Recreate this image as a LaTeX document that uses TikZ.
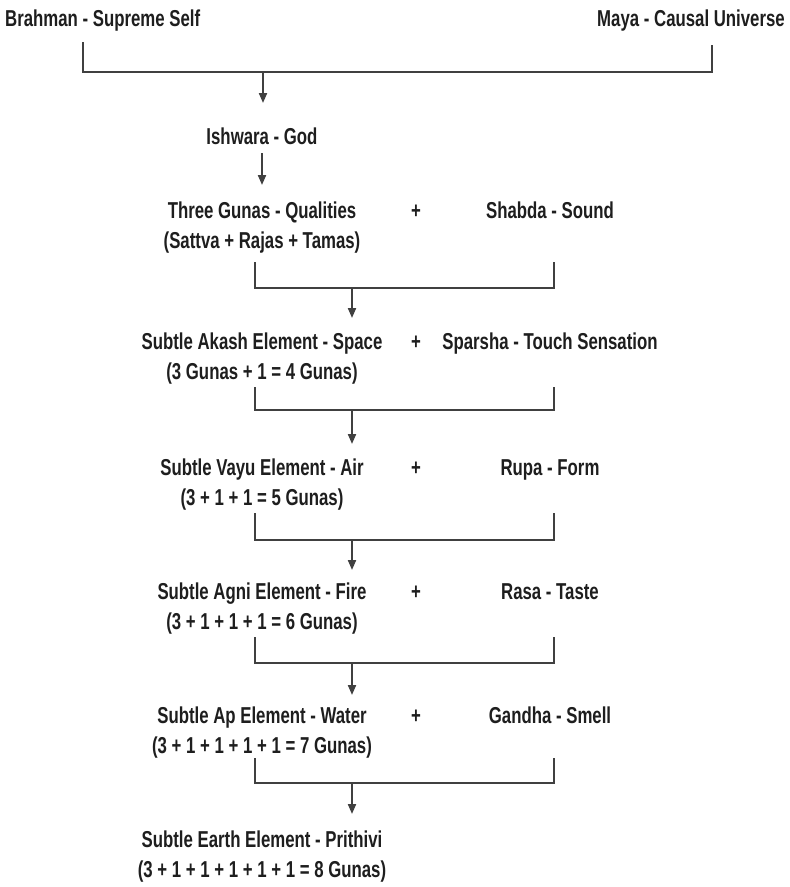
\documentclass[tikz,border=0pt]{standalone}
\usepackage{fontspec}
\newfontfamily\lblfont[FakeStretch=0.73]{Liberation Sans}
\usetikzlibrary{arrows.meta}
\definecolor{txt}{HTML}{1E1E1E}
\definecolor{ln}{HTML}{404040}
\begin{document}
\begin{tikzpicture}[x=1pt,y=-1pt,
  lbl/.style={font=\lblfont\bfseries\fontsize{23}{30}\selectfont, text=txt, inner sep=0pt, align=center},
  conn/.style={draw=ln, line width=2pt},
  arr/.style={conn, -{Triangle[length=10pt,width=8pt]}}]
\useasboundingbox[fill=white] (0,0) rectangle (790,887);

% texts (two-line nodes: base = baseline of the second line)
\node[lbl,anchor=base west] (brahman) at (5,26) {Brahman - Supreme Self};
\node[lbl,anchor=base east] (maya) at (785,26) {Maya - Causal Universe};
\node[lbl,anchor=base] (ishwara) at (262,144) {Ishwara - God};

\node[lbl,anchor=base] (g0) at (262,248) {Three Gunas - Qualities\\(Sattva + Rajas + Tamas)};
\node[lbl,anchor=base] (p0) at (416,218) {+};
\node[lbl,anchor=base] (s0) at (550,218) {Shabda - Sound};

\node[lbl,anchor=base] (g1) at (262,379) {Subtle Akash Element - Space\\(3 Gunas + 1 = 4 Gunas)};
\node[lbl,anchor=base] (p1) at (416,349) {+};
\node[lbl,anchor=base] (s1) at (550,349) {Sparsha - Touch Sensation};

\node[lbl,anchor=base] (g2) at (262,505) {Subtle Vayu Element - Air\\(3 + 1 + 1 = 5 Gunas)};
\node[lbl,anchor=base] (p2) at (416,475) {+};
\node[lbl,anchor=base] (s2) at (550,475) {Rupa - Form};

\node[lbl,anchor=base] (g3) at (262,629) {Subtle Agni Element - Fire\\(3 + 1 + 1 + 1 = 6 Gunas)};
\node[lbl,anchor=base] (p3) at (416,599) {+};
\node[lbl,anchor=base] (s3) at (550,599) {Rasa - Taste};

\node[lbl,anchor=base] (g4) at (262,753) {Subtle Ap Element - Water\\(3 + 1 + 1 + 1 + 1 = 7 Gunas)};
\node[lbl,anchor=base] (p4) at (416,723) {+};
\node[lbl,anchor=base] (s4) at (550,723) {Gandha - Smell};

\node[lbl,anchor=base] (g5) at (262,877) {Subtle Earth Element - Prithivi\\(3 + 1 + 1 + 1 + 1 + 1 = 8 Gunas)};

% top bracket
\coordinate (tl) at (83,42);
\coordinate (tr) at (712,45);
\coordinate (tj) at (263,72);
\coordinate (ti) at (263,103);
\draw[conn] (tl) |- (tj) -| (tr);
\draw[arr] (tj) -- (ti);

\coordinate (ia) at (262,153);
\coordinate (ib) at (262,185);
\draw[arr] (ia) -- (ib);

% brackets
\coordinate (l0) at (255,262); \coordinate (r0) at (554,262); \coordinate (j0) at (352,288); \coordinate (t0) at (352,318);
\coordinate (l1) at (255,387); \coordinate (r1) at (554,387); \coordinate (j1) at (352,410); \coordinate (t1) at (352,444);
\coordinate (l2) at (255,513); \coordinate (r2) at (554,513); \coordinate (j2) at (352,540); \coordinate (t2) at (352,570);
\coordinate (l3) at (255,637); \coordinate (r3) at (554,637); \coordinate (j3) at (352,663); \coordinate (t3) at (352,695);
\coordinate (l4) at (255,758); \coordinate (r4) at (554,758); \coordinate (j4) at (352,783); \coordinate (t4) at (352,814);

\foreach \k in {0,...,4}{
  \draw[conn] (l\k) |- (j\k) -| (r\k);
  \draw[arr] (j\k) -- (t\k);
}
\end{tikzpicture}
\end{document}
